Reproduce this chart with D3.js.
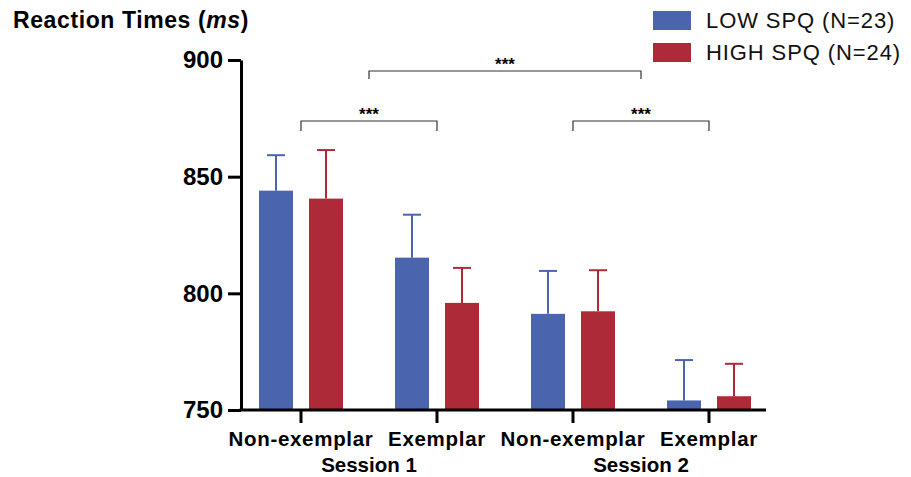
<!DOCTYPE html>
<html>
<head>
<meta charset="utf-8">
<script src="https://cdn.jsdelivr.net/npm/d3@7"></script>
<style>
  body { margin: 0; background: #fff; }
  text { font-family: "Liberation Sans", Arial, Helvetica, sans-serif; }
</style>
</head>
<body>
<div id="chart"></div>
<script>
// data
var conditions = ["Non-exemplar", "Exemplar", "Non-exemplar", "Exemplar"];
var sessions = ["Session 1", "Session 2"];
var groups = ["LOW SPQ (N=23)", "HIGH SPQ (N=24)"];
var lowMeans = [844, 815.3, 791.2, 754.1];
var lowErr = [15.2, 18.4, 18.4, 17.3];
var highMeans = [840.6, 795.9, 792.3, 755.9];
var highErr = [20.8, 15.0, 17.6, 13.9];
var yTicks = [750, 800, 850, 900];

var blue = "#4a65ad", red = "#ad2a38";

var W = 911, H = 477;
var svg = d3.select("#chart").append("svg")
    .attr("width", W)
    .attr("height", H);

var keys = conditions.map(function (c, i) { return i; });
var x = d3.scaleBand()
    .domain(keys)
    .range([233, 777])
    .padding(0);
var x1 = d3.scaleBand()
    .domain([0, 1])
    .range([-42, 42])
    .paddingInner(0.32);
var y = d3.scaleLinear()
    .domain([750, 900])
    .range([410, 60]);

function center(i) { return x(i) + x.bandwidth() / 2; }

var rows = [];
keys.forEach(function (i) {
    rows.push({ cat: i, g: 0, mean: lowMeans[i], err: lowErr[i], color: blue });
    rows.push({ cat: i, g: 1, mean: highMeans[i], err: highErr[i], color: red });
});

// bars
svg.selectAll(".bar")
    .data(rows)
    .enter().append("rect")
    .attr("class", "bar")
    .attr("x", function (d) { return center(d.cat) + x1(d.g); })
    .attr("y", function (d) { return y(d.mean); })
    .attr("width", x1.bandwidth())
    .attr("height", function (d) { return y(750) - y(d.mean); })
    .attr("fill", function (d) { return d.color; });

// upper error bars
var eb = svg.selectAll(".err")
    .data(rows)
    .enter().append("g")
    .attr("class", "err")
    .attr("stroke", function (d) { return d.color; })
    .attr("stroke-width", 2);
eb.append("line")
    .attr("x1", function (d) { return center(d.cat) + x1(d.g) + x1.bandwidth() / 2; })
    .attr("x2", function (d) { return center(d.cat) + x1(d.g) + x1.bandwidth() / 2; })
    .attr("y1", function (d) { return y(d.mean); })
    .attr("y2", function (d) { return y(d.mean + d.err); });
eb.append("line")
    .attr("x1", function (d) { return center(d.cat) + x1(d.g) + x1.bandwidth() / 2 - 9; })
    .attr("x2", function (d) { return center(d.cat) + x1(d.g) + x1.bandwidth() / 2 + 9; })
    .attr("y1", function (d) { return y(d.mean + d.err); })
    .attr("y2", function (d) { return y(d.mean + d.err); });

// y axis
var yAxis = svg.append("g")
    .attr("transform", "translate(241,0)")
    .call(d3.axisLeft(y).tickValues(yTicks).tickSize(13).tickSizeOuter(0).tickPadding(5));
yAxis.select(".domain").attr("stroke-width", 3);
yAxis.selectAll(".tick line").attr("stroke-width", 3);
yAxis.selectAll(".tick text")
    .attr("font-size", 24)
    .attr("font-weight", "bold")
    .attr("fill", "#000")
    .style("font-family", "'Liberation Sans', Arial, sans-serif");

// x axis
var xAxis = svg.append("g")
    .attr("transform", "translate(0,410)");
xAxis.append("line")
    .attr("x1", 239.5).attr("x2", 766)
    .attr("stroke", "#000").attr("stroke-width", 3);
xAxis.selectAll(".xt")
    .data(keys)
    .enter().append("line")
    .attr("x1", function (d) { return center(d); })
    .attr("x2", function (d) { return center(d); })
    .attr("y1", 0).attr("y2", 13)
    .attr("stroke", "#000").attr("stroke-width", 3);
xAxis.selectAll(".xl")
    .data(keys)
    .enter().append("text")
    .attr("x", function (d) { return center(d); })
    .attr("y", 36)
    .attr("text-anchor", "middle")
    .attr("font-size", 20.5)
    .attr("font-weight", "bold")
    .attr("letter-spacing", 0.7)
    .text(function (d) { return conditions[d]; });
xAxis.selectAll(".sl")
    .data(sessions)
    .enter().append("text")
    .attr("x", function (d, i) { return (center(i * 2) + center(i * 2 + 1)) / 2; })
    .attr("y", 62)
    .attr("text-anchor", "middle")
    .attr("font-size", 20.5)
    .attr("font-weight", "bold")
    .text(function (d) { return d; });

// significance brackets
var brackets = [
    { a: center(0), b: center(1), yy: 121, drop: 10 },
    { a: center(2), b: center(3), yy: 121, drop: 10 },
    { a: (center(0) + center(1)) / 2, b: (center(2) + center(3)) / 2, yy: 71, drop: 8 }
];
var br = svg.selectAll(".br")
    .data(brackets)
    .enter().append("g");
br.append("path")
    .attr("d", function (d) {
        return "M" + d.a + "," + (d.yy + d.drop) + "V" + d.yy + "H" + d.b + "V" + (d.yy + d.drop);
    })
    .attr("fill", "none")
    .attr("stroke", "#333")
    .attr("stroke-width", 1.2);
br.append("text")
    .attr("x", function (d) { return (d.a + d.b) / 2; })
    .attr("y", function (d) { return d.yy - 1; })
    .attr("text-anchor", "middle")
    .attr("font-size", 17)
    .attr("font-weight", "bold")
    .text("***");

// title
var title = svg.append("text")
    .attr("x", 13)
    .attr("y", 28)
    .attr("font-size", 23)
    .attr("font-weight", "bold")
    .attr("letter-spacing", 0.6);
title.append("tspan").text("Reaction Times (");
title.append("tspan").attr("font-style", "italic").text("ms");
title.append("tspan").text(")");

// legend
var legend = svg.selectAll(".lg")
    .data(groups)
    .enter().append("g")
    .attr("transform", function (d, i) { return "translate(653," + (11 + i * 32) + ")"; });
legend.append("rect")
    .attr("width", 38)
    .attr("height", 19)
    .attr("fill", function (d, i) { return i === 0 ? blue : red; });
legend.append("text")
    .attr("x", 53)
    .attr("y", 17)
    .attr("font-size", 22)
    .attr("letter-spacing", 0.9)
    .attr("fill", "#111")
    .text(function (d) { return d; });
</script>
</body>
</html>
